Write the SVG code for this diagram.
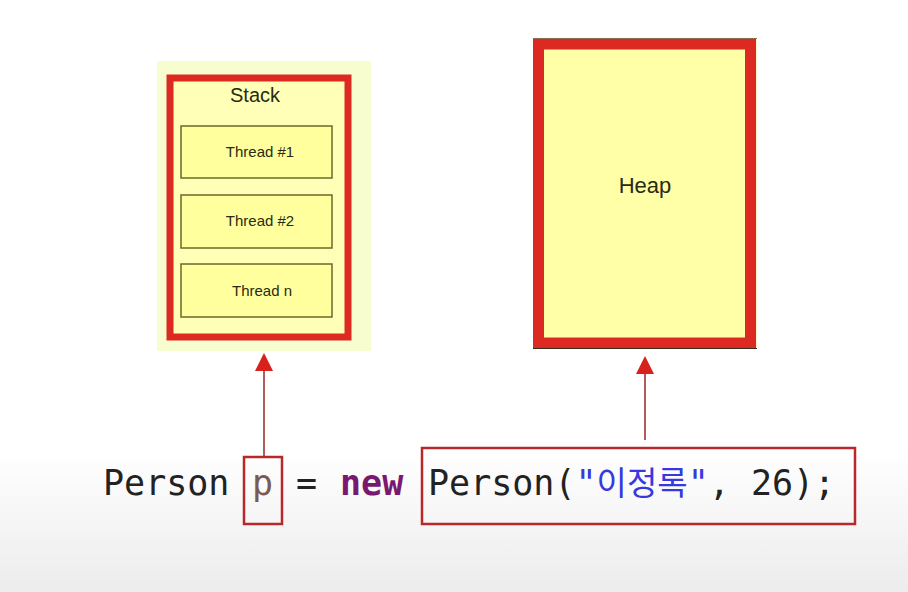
<svg xmlns="http://www.w3.org/2000/svg" width="908" height="592" viewBox="0 0 908 592">
<defs>
<linearGradient id="bg" x1="0" y1="0" x2="0" y2="1">
<stop offset="0" stop-color="#ffffff"/>
<stop offset="0.76" stop-color="#ffffff"/>
<stop offset="1" stop-color="#ececec"/>
</linearGradient>
</defs>
<style>
.thread{fill:#ffff9e;stroke:#6b6a2a;stroke-width:1.5}
.tl{font-family:"Liberation Sans",Arial,sans-serif;font-size:15px;fill:#2a2a10;text-anchor:middle}
.code{font-family:"DejaVu Sans Mono","Liberation Mono",monospace;font-size:35px;fill:#222}
.hl{fill:none;stroke:#b8282a;stroke-width:2.5}
.conn{stroke:#a03232;stroke-width:1.6}
.head{fill:#d8201c}
</style>
<rect width="908" height="592" fill="url(#bg)"/>
<g id="stack">
<rect x="157" y="61" width="214" height="290" fill="#f8fdd0"/>
<rect x="170" y="78" width="178" height="259" fill="#ffffb8" stroke="#dc2a22" stroke-width="7"/>
<text x="255" y="102" class="tl" style="font-size:20px">Stack</text>
<g id="thread1"><rect class="thread" x="181" y="126" width="151" height="52"/><text class="tl" x="260" y="157">Thread #1</text></g>
<g id="thread2"><rect class="thread" x="181" y="195" width="151" height="53"/><text class="tl" x="260" y="226">Thread #2</text></g>
<g id="threadn"><rect class="thread" x="181" y="264" width="151" height="53"/><text class="tl" x="262" y="296">Thread n</text></g>
</g>
<g id="heap">
<rect x="533" y="38" width="224" height="311" fill="#fdf5c8"/>
<rect x="538.5" y="44" width="212" height="299" fill="#ffffa8" stroke="#dc2a22" stroke-width="11"/>
<line x1="533" y1="38.5" x2="757" y2="38.5" stroke="#8a6a50" stroke-width="1"/>
<line x1="533" y1="348.5" x2="757" y2="348.5" stroke="#3a2a20" stroke-width="1.2"/>
<text x="645" y="193" class="tl" style="font-size:22px">Heap</text>
</g>
<g id="code">
<text class="code" x="103" y="495">Person</text>
<text class="code" x="252" y="495" style="fill:#7a5a52">p</text>
<text class="code" x="296" y="495">=</text>
<text class="code" x="340" y="495" style="fill:#7a1870;font-weight:bold">new</text>
<text class="code" x="428" y="495">Person(<tspan fill="#3838e0">"</tspan><tspan fill="#3838e0" style="font-family:'Noto Sans CJK KR',sans-serif;font-size:33px">이정록</tspan><tspan fill="#3838e0">"</tspan>, 26);</text>
</g>
<g id="highlights">
<rect class="hl" x="244" y="457" width="38" height="67"/>
<rect class="hl" x="422" y="448" width="433" height="76"/>
</g>
<g id="connectors">
<line class="conn" x1="264" y1="457" x2="264" y2="368"/>
<polygon class="head" points="264,353 255,371 273,371"/>
<line class="conn" x1="645" y1="440" x2="645" y2="372"/>
<polygon class="head" points="645,356 636,374 654,374"/>
</g>
</svg>
